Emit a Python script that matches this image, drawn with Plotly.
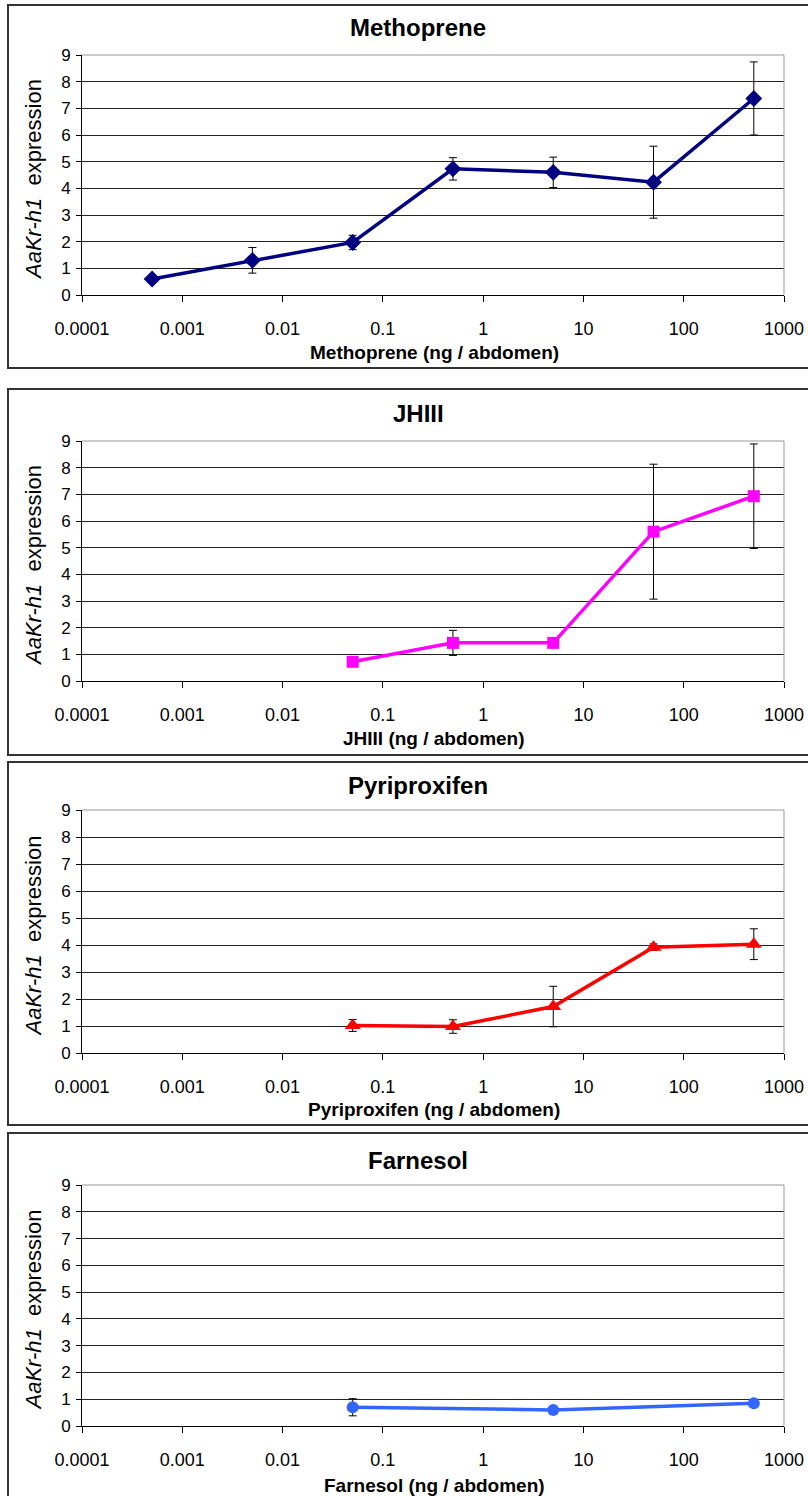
import plotly.graph_objects as go

# ---- data ----
metho_x = [0.0005, 0.005, 0.05, 0.5, 5, 50, 500]
metho_y = [0.60, 1.30, 1.97, 4.73, 4.60, 4.23, 7.37]
metho_err = [0.0, 0.48, 0.27, 0.42, 0.57, 1.35, 1.37]

jh_x = [0.05, 0.5, 5, 50, 500]
jh_y = [0.72, 1.43, 1.43, 5.60, 6.93]
jh_err = [0.0, 0.47, 0.0, 2.53, 1.96]

pyri_x = [0.05, 0.5, 5, 50, 500]
pyri_y = [1.02, 0.98, 1.72, 3.92, 4.03]
pyri_err = [0.22, 0.25, 0.75, 0.12, 0.57]

farn_x = [0.05, 5, 500]
farn_y = [0.70, 0.60, 0.85]
farn_err = [0.32, 0.06, 0.10]

x_tickvals = [0.0001, 0.001, 0.01, 0.1, 1, 10, 100, 1000]
x_ticktext = ["0.0001", "0.001", "0.01", "0.1", "1", "10", "100", "1000"]
y_tickvals = [0, 1, 2, 3, 4, 5, 6, 7, 8, 9]

titles = ["Methoprene", "JHIII", "Pyriproxifen", "Farnesol"]
xtitles = ["Methoprene (ng / abdomen)", "JHIII (ng / abdomen)",
           "Pyriproxifen (ng / abdomen)", "Farnesol (ng / abdomen)"]

W, H = 808, 1496
FONT = "Liberation Sans, Arial, Helvetica"

series = [
    (metho_x, metho_y, metho_err, "#000080", "diamond", 13),
    (jh_x, jh_y, jh_err, "#FF00FF", "square", 12),
    (pyri_x, pyri_y, pyri_err, "#FF0000", "triangle-up", 14),
    (farn_x, farn_y, farn_err, "#3366FF", "circle", 12),
]

# pixel layout
plot_px = [(55, 295), (441, 681), (810, 1053), (1185, 1426)]
box_px = [(5, 368), (389, 755), (762, 1125), (1133, 1505)]
title_px = [28, 413, 785, 1160]
xtitle_px = [352, 739, 1109, 1485]
xl, xr = 82, 784

def py(y):
    return 1 - y / H

fig = go.Figure()
shapes = []
annotations = []

for i, (xs, ys, es, col, sym, ms) in enumerate(series):
    n = i + 1
    xa = "x" if n == 1 else f"x{n}"
    ya = "y" if n == 1 else f"y{n}"
    fig.add_trace(go.Scatter(
        x=xs, y=ys, mode="lines+markers", xaxis=xa, yaxis=ya,
        line=dict(color=col, width=3.5),
        marker=dict(symbol=sym, size=ms, color=col),
        error_y=dict(type="data", array=es, visible=True, color="black",
                     thickness=1, width=4),
        showlegend=False, cliponaxis=False,
    ))
    top, bot = plot_px[i]
    xkey = "xaxis" if n == 1 else f"xaxis{n}"
    ykey = "yaxis" if n == 1 else f"yaxis{n}"
    fig.layout[xkey] = dict(
        type="log", domain=[xl / W, xr / W], anchor=ya, range=[-4, 3],
        tickvals=x_tickvals, ticktext=x_ticktext,
        ticks="outside", ticklen=6, tickcolor="black",
        showline=True, linecolor="black", linewidth=1,
        showgrid=False, zeroline=False, automargin=False,
        ticklabelstandoff=11,
        tickfont=dict(family=FONT, size=18, color="black"),
    )
    fig.layout[ykey] = dict(
        domain=[py(bot), py(top)], anchor=xa, range=[0, 9], tickvals=y_tickvals,
        ticks="outside", ticklen=5, tickcolor="black",
        showline=True, linecolor="black", linewidth=1,
        showgrid=True, gridcolor="#222222", gridwidth=1,
        zeroline=False, automargin=False, ticklabelstandoff=2,
        tickfont=dict(family=FONT, size=17, color="black"),
    )
    # gray border top & right of plot area
    shapes.append(dict(type="line", xref="paper", yref="paper",
                       x0=xl / W, x1=xr / W, y0=py(top), y1=py(top),
                       line=dict(color="#999999", width=1)))
    shapes.append(dict(type="line", xref="paper", yref="paper",
                       x0=xr / W, x1=xr / W, y0=py(top), y1=py(bot),
                       line=dict(color="#999999", width=1)))
    # panel box
    bt, bb = box_px[i]
    shapes.append(dict(type="rect", xref="paper", yref="paper",
                       x0=8 / W, x1=820 / W, y0=py(bb), y1=py(bt),
                       line=dict(color="#333333", width=2)))
    # title
    annotations.append(dict(text=f"<b>{titles[i]}</b>", xref="paper", yref="paper",
                            x=418 / W, y=py(title_px[i]), showarrow=False,
                            xanchor="center", yanchor="middle",
                            font=dict(family=FONT, size=24, color="black")))
    # x-axis title
    annotations.append(dict(text=f"<b>{xtitles[i]}</b>", xref="paper", yref="paper",
                            x=434 / W, y=py(xtitle_px[i]), showarrow=False,
                            xanchor="center", yanchor="middle",
                            font=dict(family=FONT, size=19, color="black")))
    # y-axis title
    annotations.append(dict(text="<i>AaKr-h1</i>  expression", xref="paper", yref="paper",
                            x=33 / W, y=py((top + bot) / 2 + 5), showarrow=False,
                            textangle=-90, xanchor="center", yanchor="middle",
                            font=dict(family=FONT, size=22, color="black")))

fig.update_layout(
    width=W, height=H,
    margin=dict(l=0, r=0, t=0, b=0, pad=0),
    paper_bgcolor="white", plot_bgcolor="white",
    shapes=shapes, annotations=annotations,
)

fig.write_html(
    "out.html",
    config={"displayModeBar": False},
    post_script="document.body.style.margin='0';document.body.style.overflow='hidden';",
)
